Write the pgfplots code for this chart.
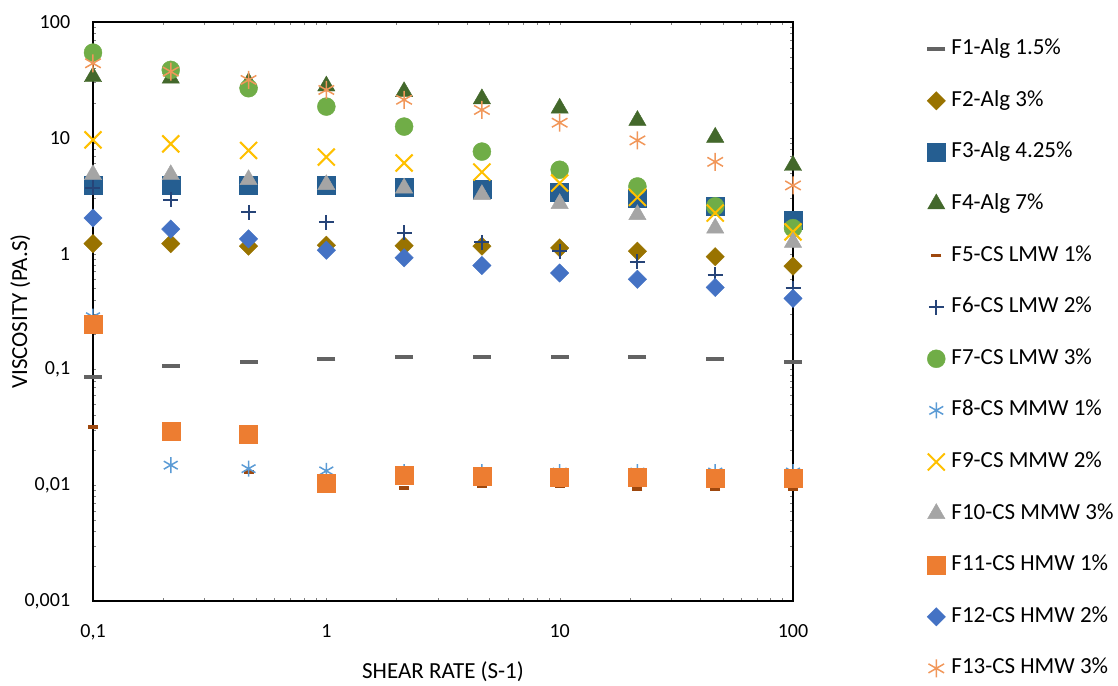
\documentclass[border=0pt]{standalone}
\usepackage{fontspec}
\setmainfont{Carlito}
\usepackage{pgfplots}
\pgfplotsset{compat=1.18}
\definecolor{cF1}{HTML}{636363}
\definecolor{cF2}{HTML}{997300}
\definecolor{cF3}{HTML}{255E91}
\definecolor{cF4}{HTML}{43682B}
\definecolor{cF5}{HTML}{9E480E}
\definecolor{cF6}{HTML}{264478}
\definecolor{cF7}{HTML}{70AD47}
\definecolor{cF8}{HTML}{5B9BD5}
\definecolor{cF9}{HTML}{FFC000}
\definecolor{cF10}{HTML}{A5A5A5}
\definecolor{cF11}{HTML}{ED7D31}
\definecolor{cF12}{HTML}{4472C4}
\definecolor{cF13}{HTML}{F1975A}
\begin{document}
\fontsize{20}{24}\selectfont
\begin{tikzpicture}
\useasboundingbox (0pt,0pt) rectangle (1118pt,-685pt);
\begin{axis}[
 at={(93pt,-601pt)}, anchor=south west,
 scale only axis, width=700pt, height=579pt,
 xmode=log, ymode=log,
 xmin=0.1, xmax=100, ymin=0.001, ymax=100,
 xtick={0.1,1,10,100}, xticklabels={{0,1},1,10,100},
 ytick={0.001,0.01,0.1,1,10,100}, yticklabels={{0,001},{0,01},{0,1},1,10,100},
 minor xtick={}, minor ytick={},
 major tick length=0pt,
 tick label style={font=\fontsize{20}{24}\selectfont},
 yticklabel style={xshift=-16pt},
 xticklabel style={yshift=-17pt},
 axis line style={line width=1.5pt},
 clip=false,
 xlabel={SHEAR RATE (S-1)},
 ylabel={VISCOSITY (PA.S)},
 label style={font=\fontsize{23}{27}\selectfont},
 xlabel style={at={(axis description cs:0.5,-0.1226)}, anchor=center},
 ylabel style={at={(axis description cs:-0.104,0.5)}, anchor=center},
 legend style={at={(axis description cs:1.187,0.975)}, anchor=north west,
   draw=none, fill=none, row sep=30.6pt,
   font=\fontsize{23}{27}\selectfont,
   nodes={inner sep=0pt, text height=16pt, text depth=5pt},
   /tikz/every odd column/.append style={column sep=6pt}},
 legend cell align=left,
]
\addplot[only marks, mark=-, mark size=9pt, cF1, line width=4pt] coordinates {
(0.1,0.086) (0.2154,0.108) (0.4642,0.117) (1,0.123) (2.154,0.127) (4.642,0.127) (10,0.127) (21.54,0.127) (46.42,0.124) (100,0.117)};
\addlegendentry{F1-Alg 1.5\%}
\addplot[only marks, mark=square*, mark size=6.5pt, mark options={rotate=45, draw=cF2, fill=cF2}] coordinates {
(0.1,1.22) (0.2154,1.22) (0.4642,1.16) (1,1.18) (2.154,1.17) (4.642,1.16) (10,1.12) (21.54,1.05) (46.42,0.94) (100,0.78)};
\addlegendentry{F2-Alg 3\%}
\addplot[only marks, mark=square*, mark size=9pt, mark options={draw=cF3, fill=cF3}] coordinates {
(0.1,3.88) (0.2154,3.88) (0.4642,3.86) (1,3.86) (2.154,3.76) (4.642,3.62) (10,3.38) (21.54,3.02) (46.42,2.56) (100,1.96)};
\addlegendentry{F3-Alg 4.25\%}
\addplot[only marks, mark=triangle*, mark size=10pt, mark options={draw=cF4, fill=cF4}] coordinates {
(0.1,33.7) (0.2154,32.7) (0.4642,30) (1,28) (2.154,25) (4.642,21.7) (10,18.0) (21.54,14.1) (46.42,10.1) (100,5.77)};
\addlegendentry{F4-Alg 7\%}
\addplot[only marks, mark=-, mark size=5pt, cF5, line width=3.5pt] coordinates {
(0.1,0.0318) (0.2154,0.029) (0.4642,0.0130) (1,0.0102) (2.154,0.0095) (4.642,0.0097) (10,0.0097) (21.54,0.0093) (46.42,0.0092) (100,0.0093)};
\addlegendentry{F5-CS LMW 1\%}
\addplot[only marks, mark=+, mark size=7.5pt, cF6, line width=2pt] coordinates {
(0.1,3.7) (0.2154,2.93) (0.4642,2.27) (1,1.86) (2.154,1.51) (4.642,1.25) (10,1.05) (21.54,0.85) (46.42,0.66) (100,0.50)};
\addlegendentry{F6-CS LMW 2\%}
\addplot[only marks, mark=*, mark size=9pt, mark options={draw=cF7, fill=cF7}] coordinates {
(0.1,54.4) (0.2154,38.6) (0.4642,26.8) (1,18.6) (2.154,12.5) (4.642,7.6) (10,5.3) (21.54,3.8) (46.42,2.56) (100,1.66)};
\addlegendentry{F7-CS LMW 3\%}
\addplot[only marks, mark=asterisk, mark size=8pt, cF8, line width=1.5pt] coordinates {
(0.1,0.285) (0.2154,0.0149) (0.4642,0.0139) (1,0.0133) (2.154,0.013) (4.642,0.013) (10,0.013) (21.54,0.013) (46.42,0.013) (100,0.013)};
\addlegendentry{F8-CS MMW 1\%}
\addplot[only marks, mark=x, mark size=12pt, cF9, line width=2pt] coordinates {
(0.1,9.6) (0.2154,8.87) (0.4642,7.78) (1,6.82) (2.154,6.06) (4.642,5.06) (10,4.07) (21.54,3.06) (46.42,2.24) (100,1.54)};
\addlegendentry{F9-CS MMW 2\%}
\addplot[only marks, mark=triangle*, mark size=10pt, mark options={draw=cF10, fill=cF10}] coordinates {
(0.1,4.8) (0.2154,4.8) (0.4642,4.35) (1,3.94) (2.154,3.68) (4.642,3.23) (10,2.70) (21.54,2.17) (46.42,1.66) (100,1.25)};
\addlegendentry{F10-CS MMW 3\%}
\addplot[only marks, mark=square*, mark size=9pt, mark options={draw=cF11, fill=cF11}] coordinates {
(0.1,0.248) (0.2154,0.0292) (0.4642,0.0277) (1,0.0104) (2.154,0.0123) (4.642,0.0119) (10,0.0117) (21.54,0.0117) (46.42,0.0116) (100,0.0116)};
\addlegendentry{F11-CS HMW 1\%}
\addplot[only marks, mark=square*, mark size=6.5pt, mark options={rotate=45, draw=cF12, fill=cF12}] coordinates {
(0.1,2.03) (0.2154,1.63) (0.4642,1.34) (1,1.07) (2.154,0.92) (4.642,0.79) (10,0.68) (21.54,0.60) (46.42,0.51) (100,0.41)};
\addlegendentry{F12-CS HMW 2\%}
\addplot[only marks, mark=asterisk, mark size=9pt, cF13, line width=1.5pt] coordinates {
(0.1,44) (0.2154,37.3) (0.4642,31.6) (1,25.9) (2.154,21.3) (4.642,17.4) (10,13.5) (21.54,9.5) (46.42,6.2) (100,3.88)};
\addlegendentry{F13-CS HMW 3\%}
\end{axis}
\end{tikzpicture}
\end{document}
